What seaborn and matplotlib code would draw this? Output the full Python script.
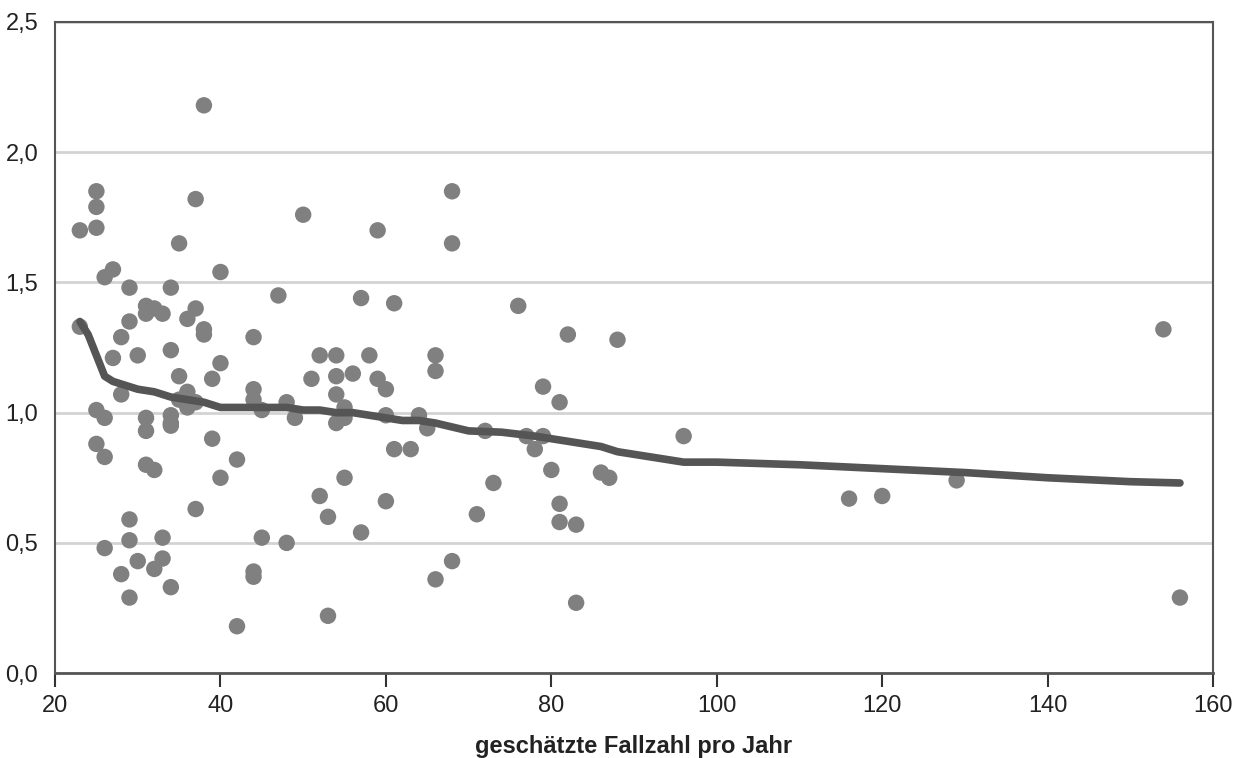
import matplotlib
matplotlib.use("Agg")
import matplotlib.pyplot as plt
import matplotlib.ticker as mticker
from matplotlib import font_manager
import seaborn as sns
import pandas as pd

# ---- data ----
fallzahl = [23, 23, 25, 25, 25, 25, 25, 26, 26, 26, 26, 27, 27, 28, 28, 28,
            29, 29, 29, 29, 29, 30, 30, 31, 31, 31, 31, 31, 32, 32, 32, 33, 33, 33,
            34, 34, 34, 34, 34, 34, 35, 35, 35, 36, 36, 36, 37, 37, 37, 37,
            38, 38, 38, 39, 39, 40, 40, 40, 42, 42, 44, 44, 44, 44, 44, 45, 45,
            47, 48, 48, 49, 50, 51, 52, 52, 53, 53, 54, 54, 54, 54, 55, 55, 55,
            56, 57, 57, 58, 59, 59, 60, 60, 60, 61, 61, 63, 64, 65, 66, 66, 66,
            68, 68, 68, 71, 72, 73, 76, 77, 78, 79, 79, 80, 81, 81, 81, 82, 83, 83,
            86, 87, 88, 96, 116, 120, 129, 154, 156]
wert = [1.70, 1.33, 1.85, 1.79, 1.71, 1.01, 0.88, 1.52, 0.98, 0.83, 0.48, 1.55, 1.21,
        1.29, 1.07, 0.38, 1.48, 1.35, 0.59, 0.51, 0.29, 1.22, 0.43, 1.41, 1.38, 0.98,
        0.93, 0.80, 1.40, 0.78, 0.40, 1.38, 0.52, 0.44, 1.48, 1.24, 0.99, 0.96, 0.95,
        0.33, 1.65, 1.14, 1.05, 1.36, 1.08, 1.02, 1.82, 1.40, 1.04, 0.63, 2.18, 1.32,
        1.30, 1.13, 0.90, 1.54, 1.19, 0.75, 0.82, 0.18, 1.29, 1.09, 1.05, 0.39, 0.37,
        1.01, 0.52, 1.45, 1.04, 0.50, 0.98, 1.76, 1.13, 1.22, 0.68, 0.60, 0.22, 1.22,
        1.14, 1.07, 0.96, 1.02, 0.98, 0.75, 1.15, 1.44, 0.54, 1.22, 1.70, 1.13, 1.09,
        0.99, 0.66, 1.42, 0.86, 0.86, 0.99, 0.94, 1.22, 1.16, 0.36, 1.85, 1.65, 0.43,
        0.61, 0.93, 0.73, 1.41, 0.91, 0.86, 0.91, 1.10, 0.78, 1.04, 0.65, 0.58, 1.30,
        0.57, 0.27, 0.77, 0.75, 1.28, 0.91, 0.67, 0.68, 0.74, 1.32, 0.29]

trend_x = [23, 24, 25, 26, 27, 28, 30, 32, 34, 36, 38, 40, 42, 44, 46, 48, 50, 52,
           54, 56, 58, 60, 62, 64, 66, 68, 70, 74, 78, 80, 84, 86, 88, 92, 96, 100,
           110, 120, 130, 140, 150, 156]
trend_y = [1.35, 1.30, 1.22, 1.14, 1.12, 1.11, 1.09, 1.08, 1.06, 1.05, 1.04, 1.02,
           1.02, 1.02, 1.02, 1.02, 1.01, 1.01, 1.00, 1.00, 0.99, 0.98, 0.97, 0.97,
           0.96, 0.945, 0.93, 0.925, 0.91, 0.90, 0.88, 0.87, 0.85, 0.83, 0.81, 0.81,
           0.80, 0.785, 0.77, 0.75, 0.735, 0.73]

x_ticks = [20, 40, 60, 80, 100, 120, 140, 160]
y_ticks = [0.0, 0.5, 1.0, 1.5, 2.0, 2.5]
x_label = "geschätzte Fallzahl pro Jahr"

pts = pd.DataFrame({"x": fallzahl, "y": wert})
trend = pd.DataFrame({"x": trend_x, "y": trend_y})

sns.set_style("white")
names = {f.name for f in font_manager.fontManager.ttflist}
fam = "Liberation Sans Narrow" if "Liberation Sans Narrow" in names else "Liberation Sans"
plt.rcParams["font.family"] = [fam, "DejaVu Sans"]

fig = plt.figure(figsize=(12.34, 7.58), dpi=100)
ax = fig.add_axes([0.0446, 0.112, 0.9384, 0.859])

sns.scatterplot(data=pts, x="x", y="y", ax=ax, color="#808080", s=140,
                edgecolor="none", linewidth=0, zorder=3)
sns.lineplot(data=trend, x="x", y="y", ax=ax, color="#555555", linewidth=5.5,
             zorder=4, sort=False, estimator=None)

ax.set_xlim(20, 160)
ax.set_ylim(0, 2.5)
ax.set_xticks(x_ticks)
ax.set_yticks(y_ticks)
ax.yaxis.set_major_formatter(mticker.FuncFormatter(lambda v, p: f"{v:.1f}".replace(".", ",")))
ax.xaxis.set_major_formatter(mticker.FuncFormatter(lambda v, p: f"{int(v)}"))
ax.grid(axis="y", color="#d3d3d3", linewidth=2, zorder=0)
ax.set_axisbelow(True)
for s in ax.spines.values():
    s.set_visible(True)
    s.set_color("#555555")
    s.set_linewidth(1.5)
ax.spines["bottom"].set_linewidth(2)
ax.tick_params(axis="x", direction="out", length=10, width=1.5, color="#333333",
               labelsize=17, pad=6, bottom=True)
ax.tick_params(axis="y", length=0, labelsize=17, pad=12, left=False)
ax.set_xlabel(x_label, fontsize=17, fontweight="bold", labelpad=13, color="#222222")
ax.set_ylabel("")
for lab in ax.get_xticklabels() + ax.get_yticklabels():
    lab.set_color("#222222")

fig.savefig("out.png", dpi=100)
